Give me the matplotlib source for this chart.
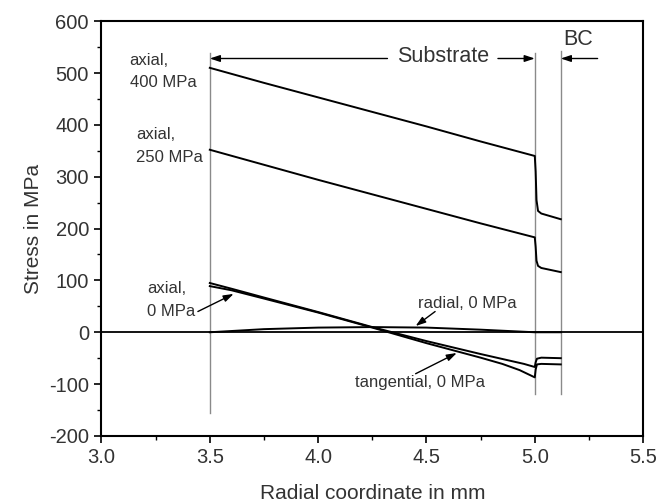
import matplotlib
matplotlib.use("Agg")
import matplotlib.pyplot as plt
from matplotlib.ticker import MultipleLocator, FormatStrFormatter

plt.rcParams['font.family'] = ['Liberation Sans', 'DejaVu Sans']
plt.rcParams['axes.unicode_minus'] = False

# ---- data ----
x_axial400 = [3.5, 3.75, 4.0, 4.25, 4.5, 4.75, 5.0, 5.004, 5.008, 5.015, 5.03, 5.12]
y_axial400 = [510, 481, 453, 425, 397, 368, 340, 310, 255, 234, 229, 218]

x_axial250 = [3.5, 3.75, 4.0, 4.25, 4.5, 4.75, 5.0, 5.004, 5.008, 5.015, 5.03, 5.12]
y_axial250 = [352, 323, 294, 266, 238, 210, 183, 165, 138, 128, 124, 116]

x_axial0 = [3.5, 3.6, 3.75, 4.0, 4.25, 4.5, 4.75, 4.95, 5.0, 5.004, 5.01, 5.03, 5.12]
y_axial0 = [95, 84, 67, 39, 10, -17, -42, -61, -67, -58, -51, -49, -50]

x_tang0 = [3.5, 3.6, 3.75, 4.0, 4.25, 4.5, 4.75, 4.85, 4.93, 4.98, 5.0, 5.004, 5.01, 5.03, 5.12]
y_tang0 = [89, 81, 65, 38, 9, -21, -49, -61, -73, -83, -87, -72, -62, -61, -62]

x_radial0 = [3.5, 3.75, 4.0, 4.25, 4.5, 4.75, 5.0, 5.12]
y_radial0 = [0, 6, 9, 10, 9, 5, 0, 0]

x_bounds = [3.5, 5.0, 5.12]
bound_bottom = [-155, -120, -120]
bound_top = [538, 539, 543]

fig = plt.figure(figsize=(6.72, 5.04), dpi=100)
ax = fig.add_axes([0.151, 0.135, 0.806, 0.823])

txtc = '#333333'
# boundary lines
for xb, b0, b1 in zip(x_bounds, bound_bottom, bound_top):
    ax.plot([xb, xb], [b0, b1], color='#8a8a8a', lw=1.0, zorder=1)

ax.axhline(0, color='black', lw=1.3, zorder=2)

for xs, ys in [(x_axial400, y_axial400), (x_axial250, y_axial250),
               (x_axial0, y_axial0), (x_tang0, y_tang0), (x_radial0, y_radial0)]:
    ax.plot(xs, ys, color='black', lw=1.4, zorder=3)

ax.set_xlim(3.0, 5.5)
ax.set_ylim(-200, 600)
ax.xaxis.set_major_locator(MultipleLocator(0.5))
ax.xaxis.set_minor_locator(MultipleLocator(0.25))
ax.yaxis.set_major_locator(MultipleLocator(100))
ax.yaxis.set_minor_locator(MultipleLocator(50))
ax.xaxis.set_major_formatter(FormatStrFormatter('%.1f'))
ax.tick_params(which='major', direction='out', length=5, width=1.2, labelsize=14.5,
               labelcolor=txtc, pad=4)
ax.tick_params(which='minor', direction='out', length=3, width=1.0)
for s in ax.spines.values():
    s.set_linewidth(1.5)

ax.set_xlabel('Radial coordinate in mm', fontsize=15, color=txtc, labelpad=12)
ax.set_ylabel('Stress in MPa', fontsize=15, color=txtc, labelpad=4)

# annotations
arrowkw = dict(arrowstyle='-|>,head_length=0.6,head_width=0.2', color='black', lw=1.0,
               shrinkA=0, shrinkB=0)
ax.annotate('', xy=(3.5, 528), xytext=(4.32, 528), arrowprops=arrowkw)
ax.annotate('', xy=(5.0, 528), xytext=(4.83, 528), arrowprops=arrowkw)
ax.text(4.575, 532, 'Substrate', fontsize=15.5, color=txtc, ha='center', va='center')
ax.annotate('', xy=(5.12, 528), xytext=(5.29, 528), arrowprops=arrowkw)
ax.text(5.2, 564, 'BC', fontsize=15.5, color=txtc, ha='center', va='center')

ax.text(3.13, 503, 'axial,\n400 MPa', fontsize=12, color=txtc, ha='left', va='center',
        linespacing=1.65)
ax.text(3.16, 360, 'axial,\n250 MPa', fontsize=12, color=txtc, ha='left', va='center',
        linespacing=1.65)
ax.text(3.21, 62, 'axial,\n0 MPa', fontsize=12, color=txtc, ha='left', va='center',
        linespacing=1.65)
ax.annotate('', xy=(3.61, 74), xytext=(3.445, 40), arrowprops=arrowkw)

ax.text(4.69, 56, 'radial, 0 MPa', fontsize=12, color=txtc, ha='center', va='center')
ax.annotate('', xy=(4.45, 12), xytext=(4.54, 40), arrowprops=arrowkw)

ax.text(4.47, -96, 'tangential, 0 MPa', fontsize=12, color=txtc, ha='center', va='center')
ax.annotate('', xy=(4.64, -40), xytext=(4.45, -80), arrowprops=arrowkw)

fig.savefig('out.png', dpi=100)
